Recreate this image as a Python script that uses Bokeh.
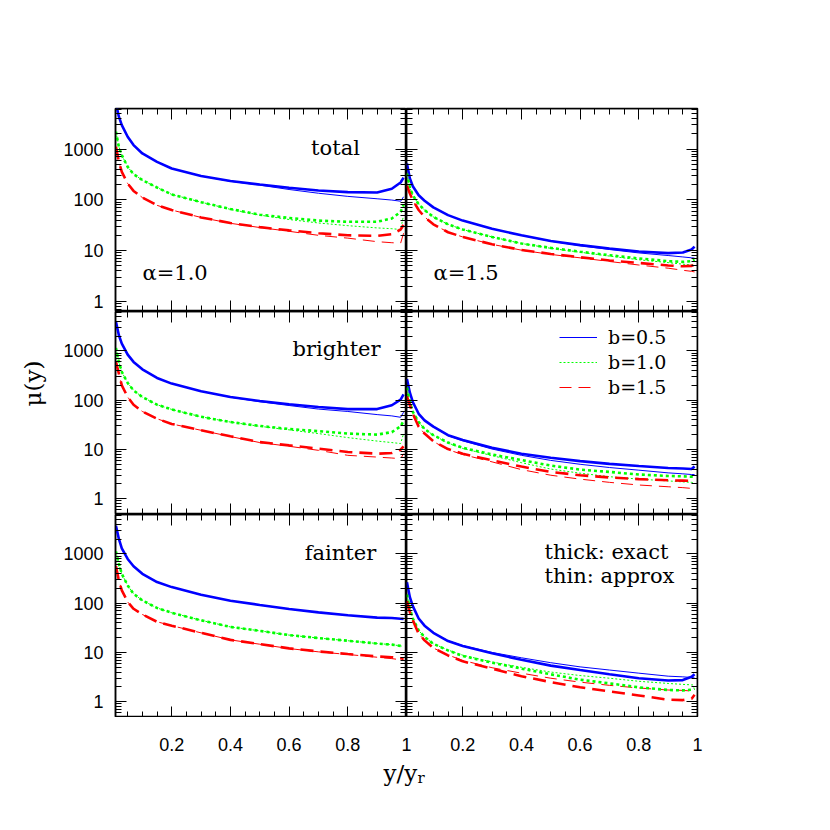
import math
from bokeh.plotting import figure
from bokeh.layouts import column, row
from bokeh.models import (Range1d, FixedTicker, LinearAxis, LogAxis, Label, Legend,
                          LegendItem, PrintfTickFormatter, CustomJSTickFormatter)
from bokeh.embed import file_html
from bokeh.resources import INLINE

# ---------------- data ----------------
X = [0.01, 0.02, 0.03, 0.05, 0.07, 0.1, 0.15, 0.2, 0.3, 0.4, 0.5, 0.6, 0.7, 0.8, 0.9, 0.95, 0.98, 0.99]

# alpha = 1.0, total
tl_b05_thick = [8000, 4350, 2970, 1750, 1200, 820, 560, 415, 295, 235, 200, 173, 153, 142, 140, 165, 220, 275]
tl_b05_thin  = [8000, 4350, 2970, 1750, 1200, 820, 560, 415, 295, 232, 195, 160, 135, 117, 105, 99, 94, 115]
tl_b10_thick = [2200, 1110, 760, 447, 322, 245, 175, 128, 90, 66, 51, 44, 39, 37, 37, 43, 58, 80]
tl_b10_thin  = [2200, 1110, 760, 447, 322, 245, 175, 128, 90, 65, 50, 41, 35, 31, 28, 27, 26, 50]
tl_b15_thick = [1110, 562, 357, 210, 150, 111, 78, 63, 45, 35, 29, 25, 22, 20, 19.5, 21, 26, 32]
tl_b15_thin  = [1110, 562, 357, 210, 150, 111, 78, 63, 45, 34.5, 28.5, 24, 20, 17.6, 15, 14.3, 14, 22]

# alpha = 1.5, total
tr_b05_thick = [520, 264, 186, 123, 96, 71, 50, 39, 27, 20, 15.5, 12.8, 11, 9.6, 8.9, 9.2, 10.5, 12]
tr_b05_thin  = [520, 264, 186, 123, 96, 71, 50, 39, 27, 20, 15.3, 12.5, 10.5, 9.0, 8.0, 7.5, 7.2, 7.1]
tr_b10_thick = [330, 174, 123, 82, 63, 46, 33, 26, 18.6, 13.8, 11.3, 9.5, 8.1, 7.0, 6.2, 6.0, 6.2, 6.6]
tr_b10_thin  = [330, 174, 123, 82, 63, 46, 33, 26, 18.6, 13.8, 11.1, 9.3, 7.8, 6.6, 5.8, 5.4, 5.2, 5.1]
tr_b15_thick = [190, 133, 98, 63, 46, 33, 23, 18.6, 13.3, 10.3, 8.6, 7.4, 6.4, 5.7, 5.1, 4.9, 5.0, 5.3]
tr_b15_thin  = [190, 133, 98, 63, 46, 33, 23, 18.6, 13.3, 10.2, 8.4, 7.2, 6.1, 5.2, 4.5, 4.1, 3.9, 3.8]

# alpha = 1.0, brighter
ml_b05_thick = [3900, 2080, 1410, 842, 598, 424, 283, 217, 152, 116, 96, 83, 73, 66, 66, 79, 103, 131]
ml_b05_thin  = [3900, 2080, 1410, 842, 598, 424, 283, 217, 152, 115, 93, 78, 66, 59, 51, 48, 45, 57]
ml_b10_thick = [1150, 598, 374, 224, 158, 116, 81, 65, 46, 36, 30, 26, 23.5, 21, 20, 22.5, 29.5, 38]
ml_b10_thin  = [1150, 598, 374, 224, 158, 116, 81, 65, 46, 36, 29.5, 25, 21, 17.4, 14.8, 13.8, 13.2, 21]
ml_b15_thick = [598, 347, 200, 116, 81, 59, 42, 33, 24.5, 18.5, 14.1, 12.1, 10.4, 8.9, 8.2, 8.5, 9.9, 11.5]
ml_b15_thin  = [598, 347, 200, 116, 81, 59, 42, 33, 24.5, 18.3, 13.8, 11.6, 9.6, 7.6, 7.0, 6.7, 6.5, 8.2]

# alpha = 1.5, brighter
mr_b05_thick = [270, 142, 92, 53, 39, 29, 19.5, 15.5, 10.8, 8.2, 6.8, 5.8, 5.1, 4.6, 4.2, 4.1, 4.0, 4.5]
mr_b05_thin  = [270, 142, 92, 53, 39, 29, 19, 15, 10.2, 7.6, 6.0, 5.0, 4.3, 3.8, 3.35, 3.2, 3.1, 3.1]
mr_b10_thick = [180, 92, 58, 36, 26, 19.5, 13.8, 10.8, 7.9, 6.1, 4.7, 3.9, 3.5, 3.1, 2.9, 2.85, 2.8, 2.85]
mr_b10_thin  = [180, 92, 58, 36, 26, 19.5, 13.5, 10.5, 7.5, 5.4, 4.0, 3.3, 2.8, 2.5, 2.3, 2.2, 2.15, 2.1]
mr_b15_thick = [120, 79, 53, 29, 21, 14.7, 10.2, 8.2, 6.0, 4.5, 3.5, 3.0, 2.7, 2.5, 2.37, 2.33, 2.3, 2.37]
mr_b15_thin  = [120, 79, 53, 29, 21, 14.5, 9.9, 7.9, 5.6, 3.9, 3.0, 2.5, 2.15, 1.9, 1.75, 1.68, 1.62, 1.6]

# alpha = 1.0, fainter
bl_b05_thick = [3740, 2010, 1300, 790, 563, 394, 268, 212, 148, 112, 92, 76, 65, 57, 51, 50, 48.5, 48]
bl_b05_thin  = [3740, 2010, 1300, 790, 563, 394, 268, 212, 148, 112, 92, 76, 65, 57, 51, 50, 48.5, 48]
bl_b10_thick = [1120, 628, 394, 229, 155, 114, 80, 64, 45, 33, 27.5, 22.5, 19.6, 17.3, 15.2, 14.4, 13.6, 13.2]
bl_b10_thin  = [1120, 628, 394, 229, 155, 114, 80, 64, 45, 33, 27.5, 22.5, 19.6, 17.3, 15.2, 14.4, 13.6, 13.2]
bl_b15_thick = [560, 289, 182, 106, 77, 59, 42, 35, 25, 18, 14.8, 12.1, 10.5, 9.3, 8.3, 8.0, 7.6, 7.4]
bl_b15_thin  = [560, 289, 182, 106, 77, 59, 42, 35, 25, 18, 14.7, 12.0, 10.3, 9.1, 8.0, 7.5, 7.1, 7.0]

# alpha = 1.5, fainter
br_b05_thick = [265, 132, 87, 49, 35, 25, 17, 13.5, 9.6, 7.1, 5.4, 4.4, 3.6, 3.0, 2.7, 2.75, 3.2, 3.6]
br_b05_thin  = [265, 132, 87, 49, 35, 25, 17.3, 13.8, 10.0, 7.8, 6.2, 5.1, 4.4, 3.8, 3.3, 3.2, 3.1, 3.05]
br_b10_thick = [150, 77, 49, 28, 20.6, 15, 11, 8.5, 6.2, 4.7, 3.6, 2.8, 2.36, 1.96, 1.73, 1.7, 1.75, 1.85]
br_b10_thin  = [150, 77, 49, 28, 20.6, 15, 11.2, 8.8, 6.4, 5.0, 4.0, 3.4, 3.0, 2.6, 2.35, 2.25, 2.2, 2.2]
br_b15_thick = [110, 66, 45, 24, 17.6, 12.3, 8.7, 6.6, 4.7, 3.3, 2.5, 1.96, 1.62, 1.34, 1.1, 1.08, 1.15, 1.38]
br_b15_thin  = [110, 66, 45, 24, 17.6, 12.3, 8.9, 6.9, 4.9, 3.8, 3.0, 2.5, 2.15, 1.9, 1.73, 1.7, 1.65, 1.65]

b_labels = ["b=0.5", "b=1.0", "b=1.5"]
panel_names = ["total", "brighter", "fainter"]
alpha_labels = ["\u03b1=1.0", "\u03b1=1.5"]
x_major = [0.2, 0.4, 0.6, 0.8, 1.0]
y_major = [1, 10, 100, 1000]
x_title = "y/y"
x_title_sub = "r"
y_title = "\u03bc(y)"

# ---------------- styling ----------------
COLORS = ["#0000ff", "#00ff00", "#ff0000"]
DASH_THICK = ["solid", "3 3", "13 7"]
DASH_THIN = ["solid", "2 2", "12 7"]
SERIF = "DejaVu Serif"
SANS = "Liberation Sans"

X0, X1 = 0.0085, 1.0
Y_TOP = 10 ** 3.8
Y_BOT = [10 ** -0.2, 10 ** -0.32, 10 ** -0.32]
FW, FH = 291, 203
STRIP_W = 50
LEFT, TOP, RIGHT = 115 - STRIP_W, 108, 30
XLAB_TOP, XLAB_H = 33, 45
TOTAL_H = TOP + 3 * FH + XLAB_TOP + XLAB_H

x_minor = [round(0.05 * k, 2) for k in range(1, 20)]
y_minor = [m * 10.0 ** d for d in range(-1, 4) for m in range(2, 10)]

series = {
    (0, 0): [(tl_b05_thick, tl_b05_thin), (tl_b10_thick, tl_b10_thin), (tl_b15_thick, tl_b15_thin)],
    (0, 1): [(tr_b05_thick, tr_b05_thin), (tr_b10_thick, tr_b10_thin), (tr_b15_thick, tr_b15_thin)],
    (1, 0): [(ml_b05_thick, ml_b05_thin), (ml_b10_thick, ml_b10_thin), (ml_b15_thick, ml_b15_thin)],
    (1, 1): [(mr_b05_thick, mr_b05_thin), (mr_b10_thick, mr_b10_thin), (mr_b15_thick, mr_b15_thin)],
    (2, 0): [(bl_b05_thick, bl_b05_thin), (bl_b10_thick, bl_b10_thin), (bl_b15_thick, bl_b15_thin)],
    (2, 1): [(br_b05_thick, br_b05_thin), (br_b10_thick, br_b10_thin), (br_b15_thick, br_b15_thin)],
}

EMPTY = CustomJSTickFormatter(code="return '';")


def style_axis(ax):
    ax.major_tick_in = 11
    ax.major_tick_out = 0
    ax.minor_tick_in = 6
    ax.minor_tick_out = 0
    ax.major_tick_line_color = "black"
    ax.minor_tick_line_color = "black"
    ax.major_tick_line_width = 1
    ax.minor_tick_line_width = 1
    ax.axis_line_color = "black"
    ax.axis_line_width = 1.5
    ax.major_label_text_font = SANS
    ax.major_label_text_font_size = "18px"
    ax.major_label_text_color = "black"
    ax.major_label_standoff = 12


def blank_fig(**kw):
    f = figure(x_range=Range1d(0, 1), y_range=Range1d(0, 1),
               x_axis_location=None, y_axis_location=None, title=None,
               output_backend="svg", toolbar_location=None, **kw)
    f.xgrid.visible = False
    f.ygrid.visible = False
    f.outline_line_color = None
    f.background_fill_color = "white"
    f.border_fill_color = "white"
    return f


def make_panel(r, c):
    p = figure(x_axis_type="linear", y_axis_type="log",
               x_range=Range1d(X0, X1), y_range=Range1d(Y_BOT[r], Y_TOP),
               frame_width=FW, frame_height=FH,
               min_border_left=LEFT if c == 0 else 0,
               min_border_right=0 if c == 0 else RIGHT,
               min_border_top=TOP if r == 0 else 0,
               min_border_bottom=0,
               x_axis_location=None, y_axis_location=None,
               title=None, output_backend="svg", toolbar_location=None)
    p.xgrid.visible = False
    p.ygrid.visible = False
    p.outline_line_color = "black"
    p.outline_line_width = 1.5
    p.background_fill_color = "white"
    p.border_fill_color = "white"

    for side in ["left", "right"]:
        labelled = (side == "left" and c == 0)
        ax = LogAxis(ticker=FixedTicker(ticks=y_major, minor_ticks=y_minor),
                     fixed_location=None if labelled else (X0 if side == "left" else X1))
        style_axis(ax)
        ax.formatter = PrintfTickFormatter(format="%g") if labelled else EMPTY
        p.add_layout(ax, side)
    for side in ["below", "above"]:
        ax = LinearAxis(ticker=FixedTicker(ticks=x_major, minor_ticks=x_minor),
                        fixed_location=Y_BOT[r] if side == "below" else Y_TOP)
        style_axis(ax)
        ax.formatter = EMPTY
        p.add_layout(ax, side)

    thin_renderers = []
    for i, (thick, thin) in enumerate(series[(r, c)]):
        tr = p.line(X, thin, line_color=COLORS[i], line_width=1, line_dash=DASH_THIN[i])
        thin_renderers.append(tr)
    for i, (thick, thin) in enumerate(series[(r, c)]):
        p.line(X, thick, line_color=COLORS[i], line_width=2.6, line_dash=DASH_THICK[i])
    return p, thin_renderers


def text(p, s, x, y, align="left", size="21px", baseline="alphabetic", angle=0.0):
    p.add_layout(Label(x=x, y=y, x_units="screen", y_units="screen", text=s,
                       text_font=SERIF, text_font_size=size, text_color="black",
                       text_align=align, text_baseline=baseline, angle=angle))


figs = {}
thin_r = {}
for r in range(3):
    for c in range(2):
        figs[(r, c)], thin_r[(r, c)] = make_panel(r, c)

# panel annotations
text(figs[(0, 0)], panel_names[0], 220, 164, align="center")
text(figs[(1, 0)], panel_names[1], 221, 166, align="center")
text(figs[(2, 0)], panel_names[2], 225, 165, align="center")
text(figs[(0, 0)], alpha_labels[0], 27, 39)
text(figs[(0, 1)], alpha_labels[1], 27, 39)
text(figs[(2, 1)], "thick: exact", 138, 166)
text(figs[(2, 1)], "thin: approx", 138, 142)

legend = Legend(items=[LegendItem(label=b_labels[i], renderers=[thin_r[(1, 1)][i]]) for i in range(3)],
                location=(153, 116), padding=0, margin=0, border_line_color=None,
                background_fill_alpha=0, glyph_width=38, glyph_height=22, label_height=22,
                spacing=3, label_standoff=11, label_text_font=SERIF, label_text_font_size="19px",
                label_text_color="black")
figs[(1, 1)].add_layout(legend)

# x tick labels (above the strip frame) and x title (inside the strip frame), spanning both columns
SHIFT = X1 - X0
strip = figure(x_range=Range1d(X0, X0 + 2 * SHIFT + 1e-6), y_range=Range1d(0, 1),
               frame_width=2 * FW, frame_height=XLAB_H,
               min_border_left=LEFT, min_border_right=RIGHT, min_border_top=XLAB_TOP, min_border_bottom=0,
               x_axis_location=None, y_axis_location=None, title=None,
               output_backend="svg", toolbar_location=None)
strip.xgrid.visible = False
strip.ygrid.visible = False
strip.outline_line_color = None
strip.background_fill_color = "white"
strip.border_fill_color = "white"
tick_pos = x_major + [t + SHIFT for t in x_major]
tick_txt = ["%g" % t for t in x_major] * 2
xax = LinearAxis(ticker=FixedTicker(ticks=tick_pos, minor_ticks=[]),
                 major_label_overrides=dict(zip(tick_pos, tick_txt)))
style_axis(xax)
xax.major_tick_in = 0
xax.minor_tick_in = 0
xax.axis_line_color = None
xax.major_label_standoff = 0
strip.add_layout(xax, "above")
text(strip, x_title, 268, 23, size="23px")
text(strip, x_title_sub, 302, 18, size="15px")

# y title strip at the far left
ystrip = blank_fig(frame_width=STRIP_W, frame_height=TOTAL_H, min_border=0)
text(ystrip, y_title, 32, TOTAL_H - 411 + 28, align="center", size="23px",
     baseline="middle", angle=math.pi / 2)

grid = column(row(figs[(0, 0)], figs[(0, 1)]),
              row(figs[(1, 0)], figs[(1, 1)]),
              row(figs[(2, 0)], figs[(2, 1)]),
              strip)
layout = row(ystrip, grid)

open("out.html", "w").write(file_html(layout, INLINE))
